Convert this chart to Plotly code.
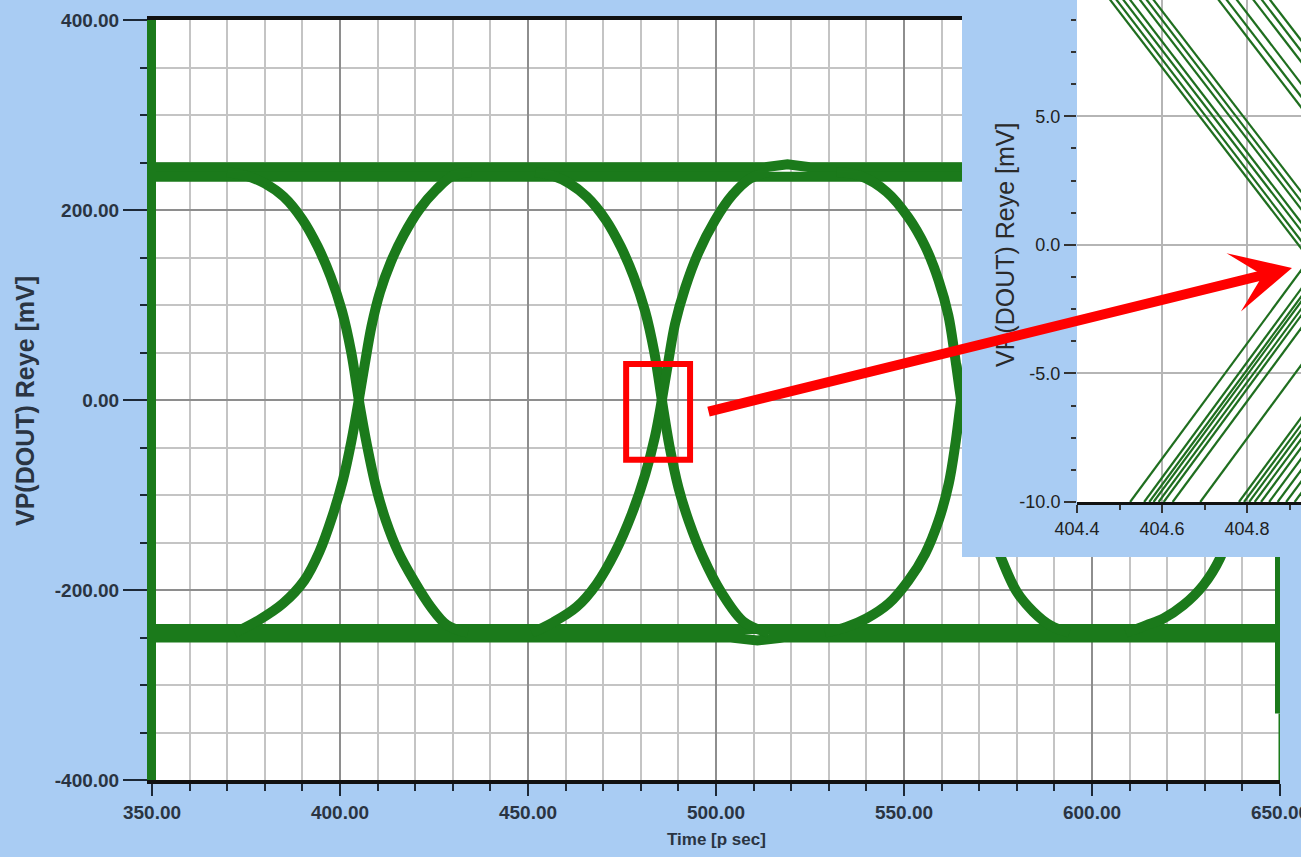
import plotly.graph_objects as go

# ---------------- main eye diagram data (time in ps, voltage in mV) ----------------
high_outer_t = [350, 513, 519, 525, 650]
high_outer_v = [245, 245, 248, 245, 245]
high_inner_t = [350, 650]
high_inner_v = [235, 235]
low_outer_t = [350, 504, 511, 518, 650]
low_outer_v = [-250, -250, -253, -250, -250]
low_inner_t = [350, 650]
low_inner_v = [-241, -241]

fall1_t = [370, 375, 380, 385, 390, 394, 397.5, 400.5, 403, 405, 407.2, 409.6, 412.2, 415.5, 419.5, 424, 428.5, 434]
fall1_v = [240, 236, 228, 214, 190, 162, 130, 94, 50, 0, -48, -92, -127, -160, -189, -217, -237, -245]
rise1_t = [372, 378.7, 384.9, 390.5, 394.5, 398, 400.8, 403, 405.0, 406.6, 408.4, 410.6, 413.5, 417, 421, 425.5, 430, 435]
rise1_v = [-245, -231, -214, -190, -160, -122, -84, -44, 0, 38, 78, 113, 145, 174, 200, 221, 236, 240]

fall2_t = [452, 456.6, 461, 465.6, 470.6, 474.6, 478.1, 481.1, 483.6, 485.6, 487.6, 490.0, 492.8, 496.5, 501.5, 507.5, 514]
fall2_v = [240, 236, 228, 214, 190, 162, 130, 94, 50, 0, -48, -92, -128, -165, -203, -234, -245]
rise2_t = [451, 456.7, 462.9, 468.2, 473.2, 477.6, 481.2, 483.8, 485.6, 487.3, 489.1, 491.8, 495.3, 499.7, 504.4, 509.0, 514]
rise2_v = [-245, -234, -218, -194, -160, -120, -78, -38, 0, 40, 80, 118, 155, 189, 216, 233, 240]

fall3_t = [532, 538.3, 545.4, 551.2, 555.6, 559.2, 561.8, 563.4, 565.2, 567.3, 569.8, 573.2, 575.5, 580, 584.4, 588.8, 594]
fall3_v = [240, 236, 219, 192, 162, 126, 89, 50, 0, -48, -94, -138, -163, -202, -223, -237, -245]
rise3_t = [529, 534.7, 540.0, 546.0, 551.2, 555.6, 559.2, 561.9, 563.6, 565.2, 566.8, 568.6, 570.8, 573.8, 577.3, 581.3, 585.8, 590.2, 595]
rise3_v = [-245, -239, -230, -214, -190, -162, -127, -88, -48, 0, 40, 78, 113, 145, 174, 200, 221, 236, 240]

fall4_t = [610, 615, 620, 625, 630, 634, 637.5, 640.5, 643, 645, 647.2, 649.6, 652.2, 655.5]
fall4_v = [240, 236, 228, 214, 190, 162, 130, 94, 50, 0, -48, -92, -127, -160]
rise4_t = [609, 614.5, 619.0, 624.3, 629.6, 634.0, 637.5, 640.4, 643.2, 645, 646.6, 648.4, 650.6, 653.5]
rise4_v = [-245, -237, -230, -216, -195, -167, -128, -86, -40, 0, 38, 78, 113, 145]

edge_left_t = [350, 350]
edge_left_v = [400, -400]
edge_right_thick_t = [650, 650]
edge_right_thick_v = [400, -330]
edge_right_thin_t = [650, 650]
edge_right_thin_v = [-330, -400]

# ---------------- inset (zoom on crossing) data ----------------
inset_v_hi = 10.0
inset_v_lo = -10.0
inset_fall_t_hi = [404.456, 404.471, 404.487, 404.503, 404.526, 404.542, 404.558,
                   404.711, 404.730, 404.754, 404.793, 404.813, 404.832]
inset_fall_t_lo = [405.386, 405.398, 405.419, 405.432, 405.458, 405.470, 405.489,
                   405.641, 405.662, 405.683, 405.725, 405.741, 405.764]
inset_rise_t_lo = [404.525, 404.558, 404.570, 404.580, 404.592, 404.604, 404.625, 404.690,
                   404.781, 404.793, 404.805, 404.818, 404.833, 404.852, 404.872, 404.892, 404.912]
inset_rise_t_hi = [405.418, 405.449, 405.465, 405.472, 405.486, 405.496, 405.520, 405.582,
                   405.673, 405.688, 405.697, 405.712, 405.725, 405.746, 405.764, 405.786, 405.804]

main_x_ticks = [350, 400, 450, 500, 550, 600, 650]
main_x_labels = ['350.00', '400.00', '450.00', '500.00', '550.00', '600.00', '650.00']
main_y_ticks = [-400, -200, 0, 200, 400]
main_y_labels = ['-400.00', '-200.00', '0.00', '200.00', '400.00']
inset_x_ticks = [404.4, 404.6, 404.8]
inset_x_labels = ['404.4', '404.6', '404.8']
inset_y_ticks = [-10, -5, 0, 5]
inset_y_labels = ['-10.0', '-5.0', '0.0', '5.0']

# ---------------- styling ----------------
BLUE = '#a9ccf3'
GREEN = '#1b7a1b'
INSET_GREEN = '#1f6e1f'
TICK_COL = '#2a3442'
W, H = 1301, 857

fig = go.Figure()


def add_main(t, v, width, shape='spline'):
    line = dict(color=GREEN, width=width, shape=shape)
    if shape == 'spline':
        line['smoothing'] = 1.0
    fig.add_trace(go.Scatter(x=t, y=v, mode='lines', line=line,
                             xaxis='x', yaxis='y', hoverinfo='skip'))


for t, v in [(high_outer_t, high_outer_v), (high_inner_t, high_inner_v),
             (low_outer_t, low_outer_v), (low_inner_t, low_inner_v)]:
    add_main(t, v, 10, 'linear')
for t, v in [(fall1_t, fall1_v), (rise1_t, rise1_v), (fall2_t, fall2_v), (rise2_t, rise2_v),
             (fall3_t, fall3_v), (rise3_t, rise3_v), (fall4_t, fall4_v), (rise4_t, rise4_v)]:
    add_main(t, v, 10)
add_main(edge_left_t, edge_left_v, 8, 'linear')
add_main(edge_right_thick_t, edge_right_thick_v, 10, 'linear')
add_main(edge_right_thin_t, edge_right_thin_v, 3, 'linear')

# panel behind the inset (covers the main plot)
fig.add_trace(go.Scatter(x=[0, 1, 1, 0, 0], y=[0, 0, 1, 1, 0], mode='lines', fill='toself',
                         fillcolor=BLUE, line=dict(width=0, color=BLUE),
                         xaxis='x2', yaxis='y2', hoverinfo='skip'))

# inset lines
for a, b in zip(inset_fall_t_hi, inset_fall_t_lo):
    fig.add_trace(go.Scatter(x=[a, b], y=[inset_v_hi, inset_v_lo], mode='lines',
                             line=dict(color=INSET_GREEN, width=2.2),
                             xaxis='x3', yaxis='y3', hoverinfo='skip'))
for a, b in zip(inset_rise_t_lo, inset_rise_t_hi):
    fig.add_trace(go.Scatter(x=[a, b], y=[inset_v_lo, inset_v_hi], mode='lines',
                             line=dict(color=INSET_GREEN, width=2.2),
                             xaxis='x3', yaxis='y3', hoverinfo='skip'))

main_font = dict(family='Liberation Sans', size=19, color=TICK_COL, weight='bold')
inset_font = dict(family='Liberation Sans', size=18, color='#222222')

fig.update_layout(
    width=W, height=H, margin=dict(l=0, r=0, t=0, b=0, autoexpand=False),
    paper_bgcolor=BLUE, plot_bgcolor='white', showlegend=False,
    xaxis=dict(domain=[152 / W, 1280 / W], range=[350, 650], anchor='y', automargin=False,
               tickvals=main_x_ticks, ticktext=main_x_labels, ticklabeloverflow='allow',
               showgrid=True, gridcolor='#8e8e8e', gridwidth=2, zeroline=False,
               showline=True, linecolor='#111111', linewidth=4, mirror=True,
               ticks='outside', ticklen=12, tickwidth=2, tickcolor='#1c2836',
               tickfont=main_font,
               minor=dict(dtick=10, tick0=350, showgrid=True, gridcolor='#c4c4c4', gridwidth=1.5,
                          ticks='outside', ticklen=7, tickwidth=2, tickcolor='#1c2836'),
               fixedrange=True),
    yaxis=dict(domain=[(H - 780) / H, (H - 20) / H], range=[-400, 400], anchor='x', automargin=False,
               tickvals=main_y_ticks, ticktext=main_y_labels, ticklabeloverflow='allow',
               showgrid=True, gridcolor='#8e8e8e', gridwidth=2, zeroline=False,
               showline=True, linecolor=GREEN, linewidth=5,
               ticks='outside', ticklen=24, tickwidth=2, tickcolor='#1c2836',
               tickfont=main_font,
               minor=dict(dtick=50, tick0=0, showgrid=True, gridcolor='#c4c4c4', gridwidth=1.5,
                          ticks='outside', ticklen=7, tickwidth=2, tickcolor='#1c2836'),
               fixedrange=True),
    xaxis2=dict(domain=[962 / W, 1], range=[0, 1], anchor='y2', visible=False,
                automargin=False, fixedrange=True),
    yaxis2=dict(domain=[(H - 557) / H, 1], range=[0, 1], anchor='x2', visible=False,
                automargin=False, fixedrange=True),
    xaxis3=dict(domain=[1077 / W, 1], range=[404.4, 404.927], anchor='y3', automargin=False,
                tickvals=inset_x_ticks, ticktext=inset_x_labels, ticklabeloverflow='allow',
                showgrid=True, gridcolor='#b5b5b5', gridwidth=1.5, zeroline=False,
                showline=True, linecolor='#111111', linewidth=3,
                ticks='outside', ticklen=8, tickwidth=1.5, tickcolor='#333333',
                tickfont=inset_font,
                minor=dict(dtick=0.1, tick0=404.4, ticks='outside', ticklen=5, tickwidth=1.5,
                           tickcolor='#333333', showgrid=False),
                fixedrange=True),
    yaxis3=dict(domain=[(H - 502) / H, 1], range=[-10, 9.52], anchor='x3', automargin=False,
                tickvals=inset_y_ticks, ticktext=inset_y_labels, ticklabeloverflow='allow',
                showgrid=True, gridcolor='#b5b5b5', gridwidth=1.5, zeroline=False,
                showline=False,
                ticks='outside', ticklen=12, tickwidth=1.5, tickcolor='#333333',
                tickfont=inset_font,
                minor=dict(dtick=1.25, tick0=0, ticks='outside', ticklen=5, tickwidth=1.5,
                           tickcolor='#333333', showgrid=False),
                fixedrange=True),
    shapes=[
        dict(type='rect', xref='x', yref='y', x0=476.1, x1=493.1, y0=-63, y1=38,
             line=dict(color='#ff0000', width=6), layer='above'),
    ],
    annotations=[
        dict(text='Time [p sec]', xref='paper', yref='paper', x=716 / W, y=(H - 839) / H,
             xanchor='center', yanchor='middle', showarrow=False,
             font=dict(family='Liberation Sans', size=17, color=TICK_COL, weight='bold')),
        dict(text='VP(DOUT) Reye [mV]', xref='paper', yref='paper', x=25 / W, y=(H - 401) / H,
             xanchor='center', yanchor='middle', textangle=-90, showarrow=False,
             font=dict(family='Liberation Sans', size=25, color=TICK_COL, weight='bold')),
        dict(text='VP(DOUT) Reye [mV]', xref='paper', yref='paper', x=1005 / W, y=(H - 245) / H,
             xanchor='center', yanchor='middle', textangle=-90, showarrow=False,
             font=dict(family='Liberation Sans', size=25, color='#2a2a2a')),
        dict(text='', xref='paper', yref='paper', x=1292 / W, y=(H - 268) / H,
             showarrow=True, ax=707 - 1292, ay=412 - 268, axref='pixel', ayref='pixel',
             arrowhead=3, arrowsize=1.0, arrowwidth=10, arrowcolor='#ff0000', standoff=0),
    ],
)

fig.write_html('out.html', config={'displayModeBar': False},
               post_script="document.body.style.margin='0px';document.body.style.padding='0px';")
